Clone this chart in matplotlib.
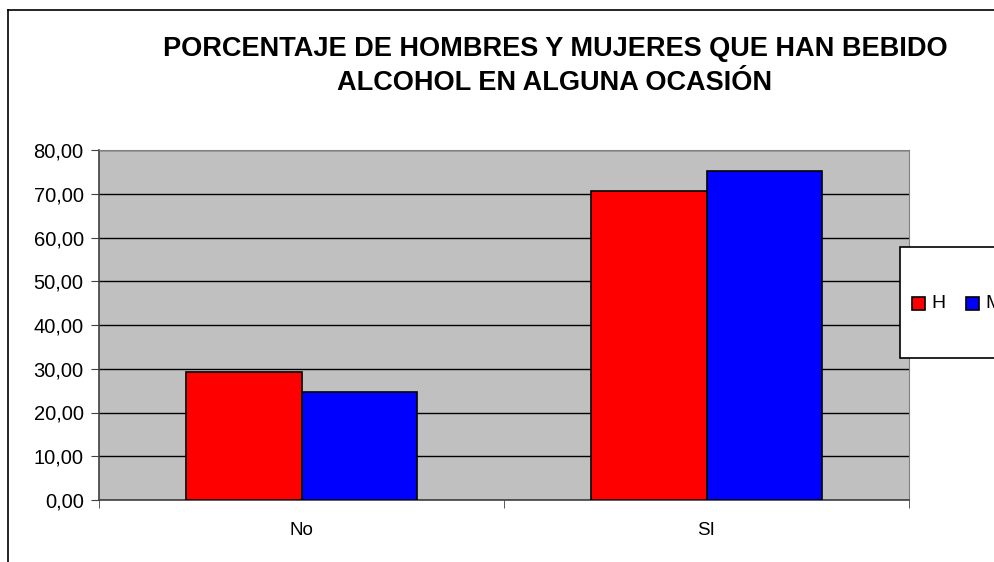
import matplotlib
matplotlib.use("Agg")
import matplotlib.pyplot as plt
from matplotlib.patches import Rectangle
from matplotlib.lines import Line2D
import numpy as np

plt.rcParams['font.family'] = ['Liberation Sans', 'DejaVu Sans']

categories = ["No", "SI"]
series_names = ["H", "M"]
values_H = [29.3, 70.7]
values_M = [24.7, 75.3]
colors = ["#FF0000", "#0000FF"]
yticks = [0, 10, 20, 30, 40, 50, 60, 70, 80]
title = "PORCENTAJE DE HOMBRES Y MUJERES QUE HAN BEBIDO\nALCOHOL EN ALGUNA OCASIÓN"

W, H = 995, 562
fig = plt.figure(figsize=(W/100, H/100), dpi=100)
fig.patch.set_facecolor("white")

# chart area border (top and left visible)
fig.add_artist(Line2D([8/W, 8/W], [0, 1-10/H], color="black", lw=1.2, transform=fig.transFigure))
fig.add_artist(Line2D([8/W, 1], [1-10/H, 1-10/H], color="black", lw=1.2, transform=fig.transFigure))

ax = fig.add_axes([99/W, 1-500/H, (909-99)/W, (500-150)/H])
ax.set_facecolor("#C0C0C0")

x = np.arange(len(categories))
bw = 0.286
ax.bar(x - bw/2, values_H, width=bw, color=colors[0], edgecolor="black", linewidth=1.2, label=series_names[0], zorder=3)
ax.bar(x + bw/2, values_M, width=bw, color=colors[1], edgecolor="black", linewidth=1.2, label=series_names[1], zorder=3)

ax.set_xlim(-0.5, 1.5)
ax.set_ylim(0, 80)
ax.set_yticks(yticks)
ax.set_yticklabels([f"{v:.2f}".replace(".", ",") for v in yticks], fontsize=14.5)
ax.yaxis.grid(True, color="black", linewidth=1.0, zorder=1)
ax.set_axisbelow(True)

ax.set_xticks(x)
ax.set_xticklabels(categories, fontsize=13.5)
ax.tick_params(axis="x", length=0, pad=16)
ax.set_xticks([-0.5, 0.5, 1.5], minor=True)
ax.tick_params(axis="x", which="minor", length=6, color="#404040", direction="out")
ax.tick_params(axis="y", length=6, color="#404040", direction="out", pad=5)

for side in ["left", "bottom"]:
    ax.spines[side].set_color("#404040")
    ax.spines[side].set_linewidth(1.2)
ax.spines["top"].set_color("#808080")
ax.spines["right"].set_color("#808080")

fig.text(555/W, 1-66/H, title, ha="center", va="center", fontsize=19.5, fontweight="bold",
         linespacing=1.4)

# legend box (cut off at the right edge, as in the reference)
fig.add_artist(Rectangle((900/W, 1-358/H), 200/W, 111/H, transform=fig.transFigure,
                         facecolor="white", edgecolor="black", lw=1.2, zorder=5))
sq_x = [912, 966]
txt_x = [931, 985]
for name, c, sx, tx in zip(series_names, colors, sq_x, txt_x):
    fig.add_artist(Rectangle((sx/W, 1-310/H), 13/W, 13/H, transform=fig.transFigure,
                             facecolor=c, edgecolor="black", lw=1.2, zorder=6))
    fig.text(tx/W, 1-303/H, name, ha="left", va="center", fontsize=14, zorder=6)

fig.savefig("out.png", dpi=100)
